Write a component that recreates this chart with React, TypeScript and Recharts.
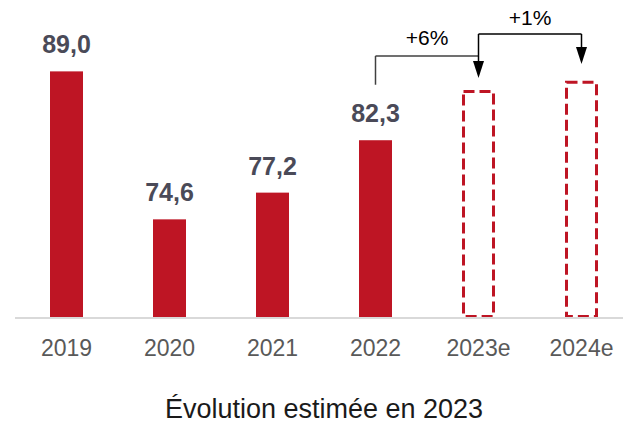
import { BarChart, Bar, XAxis, YAxis, LabelList, ReferenceLine } from 'recharts';

const years = ['2019', '2020', '2021', '2022', '2023e', '2024e'];
const values = [89.0, 74.6, 77.2, 82.3, 87.2, 88.1];
const estimated = [false, false, false, false, true, true];
const growthLabels = ['+6%', '+1%'];

const RED = '#be1524';
const FONT = '"Liberation Sans", Arial, sans-serif';

const data = years.map((year, i) => ({
  year,
  value: values[i],
  estimated: estimated[i],
  label: estimated[i] ? null : values[i],
}));

// annotation levels (in axis units)
const bracket1Start = 87.7;
const bracket1Level = 90.5;
const arrow1Tip = 88.36;
const bracket2Level = 92.64;
const arrow2Tip = 89.72;

const fmt = (v: number) => v.toFixed(1).replace('.', ',');

const BarShape = (props: any) => {
  const { x, y, width, height } = props;
  const isEst = props.payload?.estimated ?? props.estimated;
  if (isEst) {
    return (
      <rect
        x={x + 1.5}
        y={y + 1.5}
        width={width - 3}
        height={height - 3}
        fill="none"
        stroke={RED}
        strokeWidth={3}
        strokeDasharray="11 5"
      />
    );
  }
  return <rect x={x} y={y} width={width} height={height} fill={RED} />;
};

const ValueLabel = (props: any) => {
  const { x, y, width, value } = props;
  if (value == null) return null;
  return (
    <text
      x={x + width / 2}
      y={y - 18}
      textAnchor="middle"
      fontFamily={FONT}
      fontWeight="bold"
      fontSize={25}
      fill="#4a4a58"
    >
      {fmt(value)}
    </text>
  );
};

const plainLine = (color: string) => (props: any) => (
  <line x1={props.x1} y1={props.y1} x2={props.x2} y2={props.y2} stroke={color} strokeWidth={1.5} />
);

const arrowLine = (props: any) => {
  const { x1, y1, x2, y2 } = props;
  return (
    <g>
      <line x1={x1} y1={y1} x2={x2} y2={y2 - 10} stroke="#000" strokeWidth={1.5} />
      <polygon points={`${x2 - 5.5},${y2 - 17} ${x2 + 5.5},${y2 - 17} ${x2},${y2}`} fill="#000" />
    </g>
  );
};

export default function App() {
  return (
    <div style={{ position: 'absolute', left: 0, top: 0, width: 623, height: 426, overflow: 'hidden', background: '#fff' }}>
      <BarChart
        width={640}
        height={426}
        data={data}
        margin={{ top: 20, right: 7, bottom: 78, left: 15 }}
      >
        <XAxis
          dataKey="year"
          axisLine={{ stroke: '#d9d9d9', strokeWidth: 2 }}
          tickLine={false}
          tickMargin={16}
          tick={{ fontSize: 23, fill: '#595959', fontFamily: FONT }}
          label={{
            value: 'Évolution estimée en 2023',
            position: 'bottom',
            offset: 51,
            fontSize: 27,
            fill: '#1a1a1a',
            fontFamily: FONT,
          }}
        />
        <YAxis hide domain={[65, 94]} allowDataOverflow />
        <Bar dataKey="value" barSize={33} shape={BarShape} isAnimationActive={false}>
          <LabelList dataKey="label" content={ValueLabel} />
        </Bar>

        {/* 2022 -> 2023e */}
        <ReferenceLine
          segment={[{ x: '2022', y: bracket1Start }, { x: '2022', y: bracket1Level }]}
          shape={plainLine('#404040')}
        />
        <ReferenceLine
          segment={[{ x: '2022', y: bracket1Level }, { x: '2023e', y: bracket1Level }]}
          shape={plainLine('#404040')}
          label={{ value: growthLabels[0], position: 'top', offset: 11, fontSize: 21, fill: '#000', fontFamily: FONT }}
        />
        <ReferenceLine
          segment={[{ x: '2023e', y: bracket1Level }, { x: '2023e', y: arrow1Tip }]}
          shape={arrowLine}
        />

        {/* 2023e -> 2024e */}
        <ReferenceLine
          segment={[{ x: '2023e', y: bracket1Level }, { x: '2023e', y: bracket2Level }]}
          shape={plainLine('#000')}
        />
        <ReferenceLine
          segment={[{ x: '2023e', y: bracket2Level }, { x: '2024e', y: bracket2Level }]}
          shape={plainLine('#000')}
          label={{ value: growthLabels[1], position: 'top', offset: 9, fontSize: 21, fill: '#000', fontFamily: FONT }}
        />
        <ReferenceLine
          segment={[{ x: '2024e', y: bracket2Level }, { x: '2024e', y: arrow2Tip }]}
          shape={arrowLine}
        />
      </BarChart>
    </div>
  );
}
